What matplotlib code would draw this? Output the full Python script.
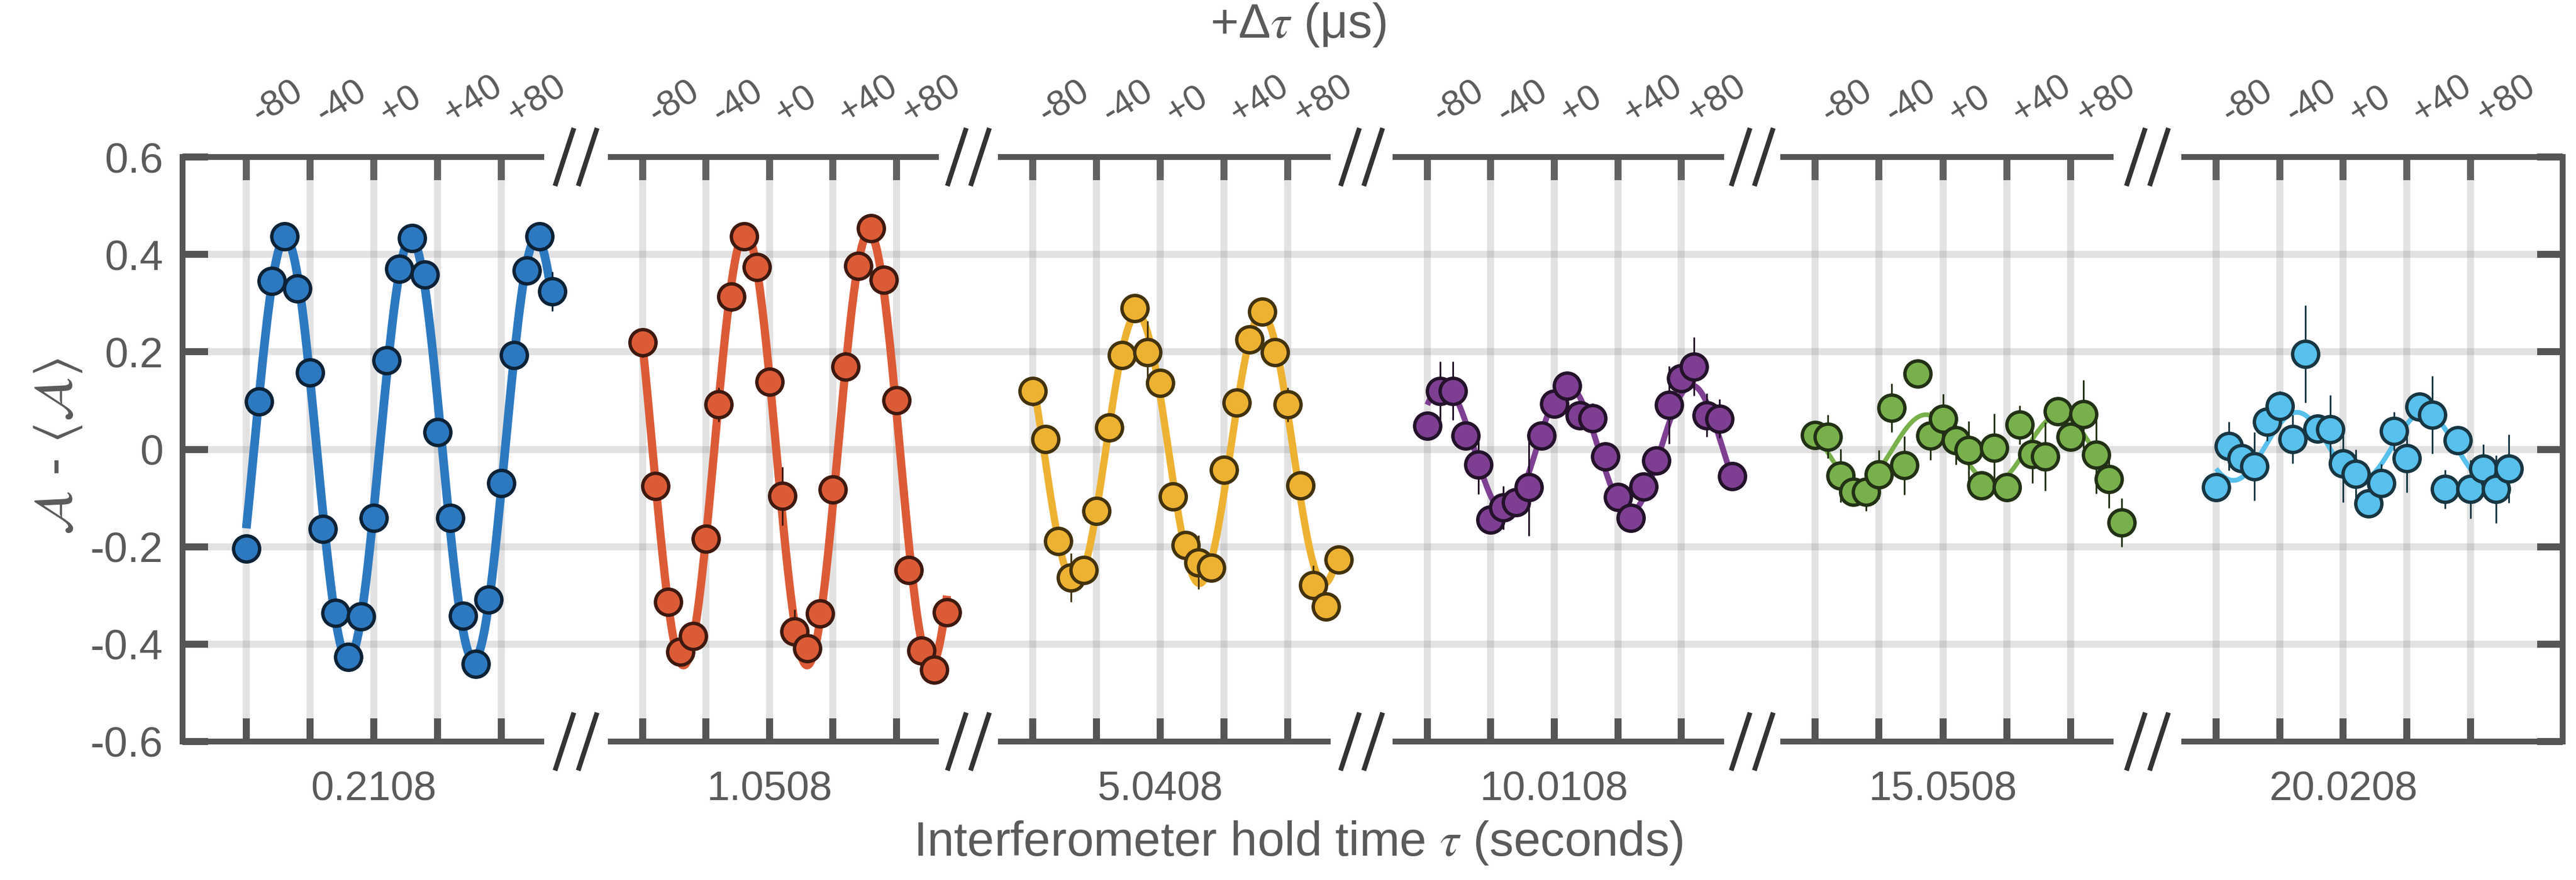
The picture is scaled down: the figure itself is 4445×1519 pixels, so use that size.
import numpy as np
import matplotlib
matplotlib.use("Agg")
import matplotlib.pyplot as plt
from matplotlib.lines import Line2D

plt.rcParams['font.family'] = ['Liberation Sans', 'DejaVu Sans']
plt.rcParams['mathtext.fontset'] = 'stix'

# interferometer hold times (bottom labels) and delay offsets (top ticks, us)
hold_times = ['0.2108', '1.0508', '5.0408', '10.0108', '15.0508', '20.0208']
delay_us = [-80, -72, -64, -56, -48, -40, -32, -24, -16, -8, 0, 8, 16,
            24, 32, 40, 48, 56, 64, 72, 80, 88, 96, 104, 112]
top_ticks = [-80, -40, 0, 40, 80]
top_ticklabels = ['-80', '-40', '+0', '+40', '+80']
y_ticks = [0.6, 0.4, 0.2, 0, -0.2, -0.4, -0.6]
y_ticklabels = ['0.6', '0.4', '0.2', '0', '-0.2', '-0.4', '-0.6']

# A - <A> per hold time
sig_0 = [-0.204, 0.098, 0.346, 0.437, 0.330, 0.157, -0.163, -0.336, -0.426, -0.343, -0.141, 0.183, 0.370,
         0.433, 0.358, 0.035, -0.141, -0.342, -0.441, -0.309, -0.070, 0.193, 0.367, 0.437, 0.324]
err_0 = [0.03, 0.01, 0.01, 0.025, 0.01, 0.01, 0.01, 0.01, 0.01, 0.01, 0.01, 0.01, 0.01,
         0.01, 0.01, 0.01, 0.02, 0.01, 0.01, 0.01, 0.01, 0.01, 0.01, 0.01, 0.04]
sig_1 = [0.219, -0.076, -0.313, -0.416, -0.383, -0.184, 0.092, 0.313, 0.437, 0.374, 0.139, -0.096, -0.374,
         -0.409, -0.337, -0.083, 0.170, 0.377, 0.454, 0.348, 0.100, -0.248, -0.413, -0.452, -0.335]
err_1 = [0.03, 0.01, 0.01, 0.01, 0.01, 0.01, 0.035, 0.03, 0.01, 0.01, 0.01, 0.06, 0.045,
         0.01, 0.01, 0.01, 0.03, 0.01, 0.01, 0.01, 0.01, 0.01, 0.02, 0.01, 0.03]
sig_2 = [0.119, 0.021, -0.188, -0.263, -0.248, -0.127, 0.045, 0.193, 0.290, 0.199, 0.136, -0.097, -0.197,
         -0.232, -0.243, -0.042, 0.096, 0.225, 0.283, 0.199, 0.092, -0.074, -0.279, -0.323, -0.227]
err_2 = [0.03, 0.01, 0.01, 0.05, 0.01, 0.01, 0.01, 0.03, 0.01, 0.065, 0.01, 0.01, 0.01,
         0.055, 0.01, 0.01, 0.01, 0.01, 0.01, 0.01, 0.035, 0.01, 0.04, 0.01, 0.01]
sig_3 = [0.048, 0.120, 0.120, 0.028, -0.032, -0.145, -0.120, -0.109, -0.078, 0.028, 0.093, 0.130, 0.069,
         0.064, -0.015, -0.098, -0.141, -0.077, -0.023, 0.091, 0.146, 0.170, 0.070, 0.063, -0.055]
err_3 = [0.01, 0.06, 0.06, 0.01, 0.06, 0.01, 0.045, 0.02, 0.1, 0.01, 0.01, 0.01, 0.01,
         0.03, 0.03, 0.01, 0.02, 0.01, 0.01, 0.08, 0.01, 0.06, 0.045, 0.04, 0.01]
sig_4 = [0.029, 0.026, -0.054, -0.087, -0.087, -0.052, 0.085, -0.033, 0.155, 0.028, 0.063, 0.019, -0.002,
         -0.074, 0.003, -0.078, 0.050, -0.010, -0.015, 0.078, 0.026, 0.072, -0.011, -0.061, -0.150]
err_4 = [0.01, 0.045, 0.055, 0.02, 0.04, 0.05, 0.05, 0.06, 0.02, 0.05, 0.05, 0.05, 0.06,
         0.02, 0.07, 0.03, 0.04, 0.06, 0.07, 0.03, 0.01, 0.07, 0.08, 0.06, 0.05]
sig_5 = [-0.078, 0.006, -0.019, -0.035, 0.057, 0.089, 0.021, 0.196, 0.042, 0.041, -0.029, -0.050,
         -0.111, -0.070, 0.037, -0.019, 0.087, 0.071, -0.082, 0.019, -0.082, -0.040, -0.082, -0.040]
err_5 = [0.03, 0.05, 0.03, 0.07, 0.04, 0.03, 0.05, 0.1, 0.03, 0.07, 0.08, 0.05,
         0.01, 0.04, 0.04, 0.07, 0.03, 0.08, 0.04, 0.01, 0.06, 0.05, 0.07, 0.07]

signals = [sig_0, sig_1, sig_2, sig_3, sig_4, sig_5]
errors = [err_0, err_1, err_2, err_3, err_4, err_5]

colors = ['#2d79c0', '#dc5b37', '#edb232', '#7e3f92', '#78b04b', '#57c0ec']
fit_widths = [3.6, 3.4, 3.0, 2.4, 1.9, 2.0]
x_limits = [(-120, 105), (-100, 105), (-100, 105), (-100, 105), (-100, 105), (-100, 138)]

# panel placement in pixels of the 4445 x 1519 canvas
W, H = 4445, 1519
panel_px = [(315, 934), (1054, 1615), (1727, 2291), (2408, 2970), (3077, 3642), (3769, 4422)]
top_px, bot_px = 271, 1280

txt = '#5a5a5a'
spine_c = '#555555'


def sine_fit(x, y):
    # least-squares sinusoid, period scanned around 80 us
    best = None
    for T in np.arange(74.0, 88.01, 0.25):
        w = 2 * np.pi / T
        A = np.column_stack([np.sin(w * x), np.cos(w * x), np.ones_like(x)])
        coef = np.linalg.lstsq(A, y, rcond=None)[0]
        r = np.sum((A @ coef - y) ** 2)
        if best is None or r < best[0]:
            best = (r, w, coef)
    return best[1], best[2]


fig = plt.figure(figsize=(W / 300, H / 300), dpi=300)
bottom = 1 - bot_px / H
height = (bot_px - top_px) / H

# continuous horizontal grid behind all panels
bg = fig.add_axes([panel_px[0][0] / W, bottom, (panel_px[-1][1] - panel_px[0][0]) / W, height], zorder=0)
bg.set_ylim(-0.6, 0.6)
bg.axis('off')
for yv in y_ticks[1:-1]:
    bg.axhline(yv, color='#8c8c8c', alpha=0.25, lw=2.9, zorder=0)

for i in range(6):
    x0, x1 = panel_px[i]
    ax = fig.add_axes([x0 / W, bottom, (x1 - x0) / W, height], zorder=1)
    ax.patch.set_alpha(0)
    x = np.array(delay_us[:len(signals[i])], dtype=float)
    y = np.array(signals[i])
    e = np.array(errors[i])
    c = colors[i]
    edge = tuple(0.28 * v for v in matplotlib.colors.to_rgb(c))

    w, coef = sine_fit(x, y)
    xf = np.linspace(x[0], x[-1], 400)
    yf = coef[0] * np.sin(w * xf) + coef[1] * np.cos(w * xf) + coef[2]
    ax.plot(xf, yf, color=c, lw=fit_widths[i], zorder=2, clip_on=False, solid_capstyle='butt')

    ax.errorbar(x, y, yerr=e, fmt='none', ecolor=edge, elinewidth=0.7, capsize=0, zorder=3, clip_on=False)
    ax.plot(x, y, 'o', ms=10.8, mfc=c, mec=edge, mew=1.4, zorder=4, clip_on=False)

    ax.set_xlim(*x_limits[i])
    ax.set_ylim(-0.6, 0.6)
    ax.set_xticks(top_ticks)
    ax.set_xticklabels(['', '', hold_times[i], '', ''])
    ax.grid(axis='x', color='#8c8c8c', alpha=0.25, lw=2.9)
    ax.set_axisbelow(True)

    for s in ['top', 'bottom', 'left', 'right']:
        ax.spines[s].set_color(spine_c)
        ax.spines[s].set_linewidth(2.4)
    ax.spines['left'].set_visible(i == 0)
    ax.spines['right'].set_visible(i == 5)

    ax.tick_params(axis='x', direction='in', length=9.5, width=2.9, color=spine_c,
                   labelsize=17, labelcolor=txt, pad=12)
    ax.set_yticks(y_ticks)
    if i == 0:
        ax.set_yticklabels(y_ticklabels)
        ax.tick_params(axis='y', direction='in', length=10.5, width=2.9, color=spine_c,
                       labelsize=17.5, labelcolor=txt, pad=8)
    elif i == 5:
        ax.tick_params(axis='y', direction='in', length=10.5, width=2.9, color=spine_c,
                       left=False, right=True, labelleft=False)
    else:
        ax.tick_params(axis='y', left=False, labelleft=False)

    sec = ax.secondary_xaxis('top')
    sec.set_xticks(top_ticks)
    sec.set_xticklabels(top_ticklabels, rotation=32, ha='left', va='bottom')
    sec.spines['top'].set_color(spine_c)
    sec.spines['top'].set_linewidth(2.4)
    sec.tick_params(direction='in', length=9.5, width=2.9, color=spine_c,
                    labelsize=15, labelcolor=txt, pad=11)

# break marks between panels
for i in range(5):
    cx = (panel_px[i][1] + panel_px[i + 1][0]) / 2
    for ypx in (top_px, bot_px):
        for dx in (-20, 20):
            xs = [(cx + dx - 15) / W, (cx + dx + 15) / W]
            ys = [1 - (ypx + 46) / H, 1 - (ypx - 46) / H]
            fig.add_artist(Line2D(xs, ys, color='#333333', lw=2.0, transform=fig.transFigure))

fig.text(2240 / W, 1 - 43 / H, '+Δ$\\tau$ (μs)', ha='center', va='center', fontsize=20, color=txt)
fig.text(2240 / W, 1 - 1455 / H, 'Interferometer hold time $\\tau$ (seconds)', ha='center', va='center',
         fontsize=20, color=txt)
fig.text(100 / W, 1 - 771 / H, r'$\mathcal{A}$ - $\langle\mathcal{A}\rangle$', rotation=90,
         ha='center', va='center', fontsize=22, color=txt)

fig.savefig('out.png', dpi=300)
